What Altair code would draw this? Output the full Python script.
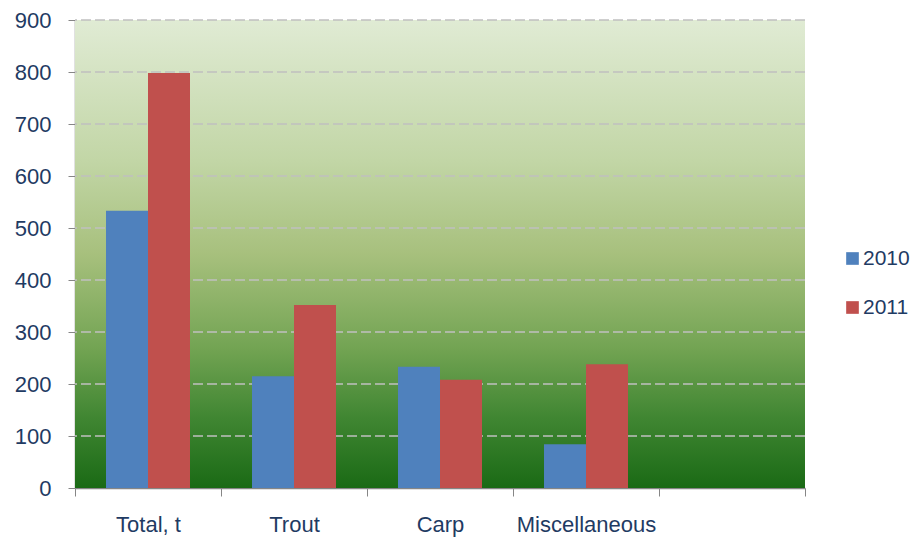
import altair as alt
import pandas as pd

categories = ["Total, t", "Trout", "Carp", "Miscellaneous"]
x_domain = categories + [" "]
years = ["2010", "2011"]
v2010 = [533, 215, 233, 84]
v2011 = [798, 352, 208, 238]
y_ticks = [0, 100, 200, 300, 400, 500, 600, 700, 800, 900]
grid_values = [100, 200, 300, 400, 500, 600, 700, 800, 900]

rows = []
for c, a, b in zip(categories, v2010, v2011):
    rows.append({"cat": c, "year": "2010", "value": a})
    rows.append({"cat": c, "year": "2011", "value": b})
df = pd.DataFrame(rows)

W, H = 730, 468
FONT = "Liberation Sans"
TXT = "#1f3b63"
AXC = "#868686"

gradient = alt.LinearGradient(
    gradient="linear", x1=0, y1=0, x2=0, y2=1,
    stops=[
        alt.GradientStop(offset=0, color="#e0ebd4"),
        alt.GradientStop(offset=0.3, color="#c2d6a6"),
        alt.GradientStop(offset=0.5, color="#a7c07d"),
        alt.GradientStop(offset=0.7, color="#73a453"),
        alt.GradientStop(offset=0.85, color="#408632"),
        alt.GradientStop(offset=1, color="#1a6a15"),
    ],
)

bg = alt.Chart(alt.Data(values=[{}])).mark_rect(fill=gradient).encode(
    x=alt.value(0), x2=alt.value(W), y=alt.value(0), y2=alt.value(H)
)

yscale = alt.Scale(domain=[0, 900], nice=False)
yaxis = alt.Axis(
    title=None, values=y_ticks, grid=False, domainColor=AXC,
    tickColor=AXC, tickSize=7, labelFont=FONT, labelFontSize=22,
    labelColor=TXT, labelPadding=17, domainWidth=1.5,
)

grid = alt.Chart(pd.DataFrame({"value": grid_values})).mark_rule(
    color="#c0c0c0", strokeDash=[10, 4], strokeWidth=1.5
).encode(y=alt.Y("value:Q", scale=yscale, axis=yaxis))

bars = alt.Chart(df).mark_bar().encode(
    x=alt.X(
        "cat:N",
        scale=alt.Scale(domain=x_domain, paddingInner=0, paddingOuter=0),
        sort=x_domain,
        axis=alt.Axis(
            title=None, labelAngle=0, tickBand="extent", domainColor=AXC,
            tickColor=AXC, tickSize=8, labelFont=FONT, labelFontSize=22,
            labelColor=TXT, labelPadding=18, grid=False, domainWidth=1.5,
        ),
    ),
    xOffset=alt.XOffset(
        "year:N", scale=alt.Scale(domain=years, paddingInner=0, paddingOuter=0.738)
    ),
    y=alt.Y("value:Q", scale=yscale, axis=yaxis),
    color=alt.Color(
        "year:N",
        scale=alt.Scale(domain=years, range=["#4f81bd", "#c0504d"]),
        legend=alt.Legend(
            title=None, orient="none", legendX=767, legendY=228,
            symbolType="square", symbolSize=160, symbolStrokeWidth=0,
            labelFont=FONT, labelFontSize=21, labelColor=TXT,
            rowPadding=27, labelOffset=0,
        ),
    ),
)

chart = alt.layer(bg, grid, bars).properties(
    width=W, height=H,
    autosize=alt.AutoSizeParams(type="none"),
    padding={"left": 67, "top": 12, "right": 107, "bottom": 49},
).configure_view(stroke=None)

chart.save("out.html", embed_options={"renderer": "svg", "actions": False})
